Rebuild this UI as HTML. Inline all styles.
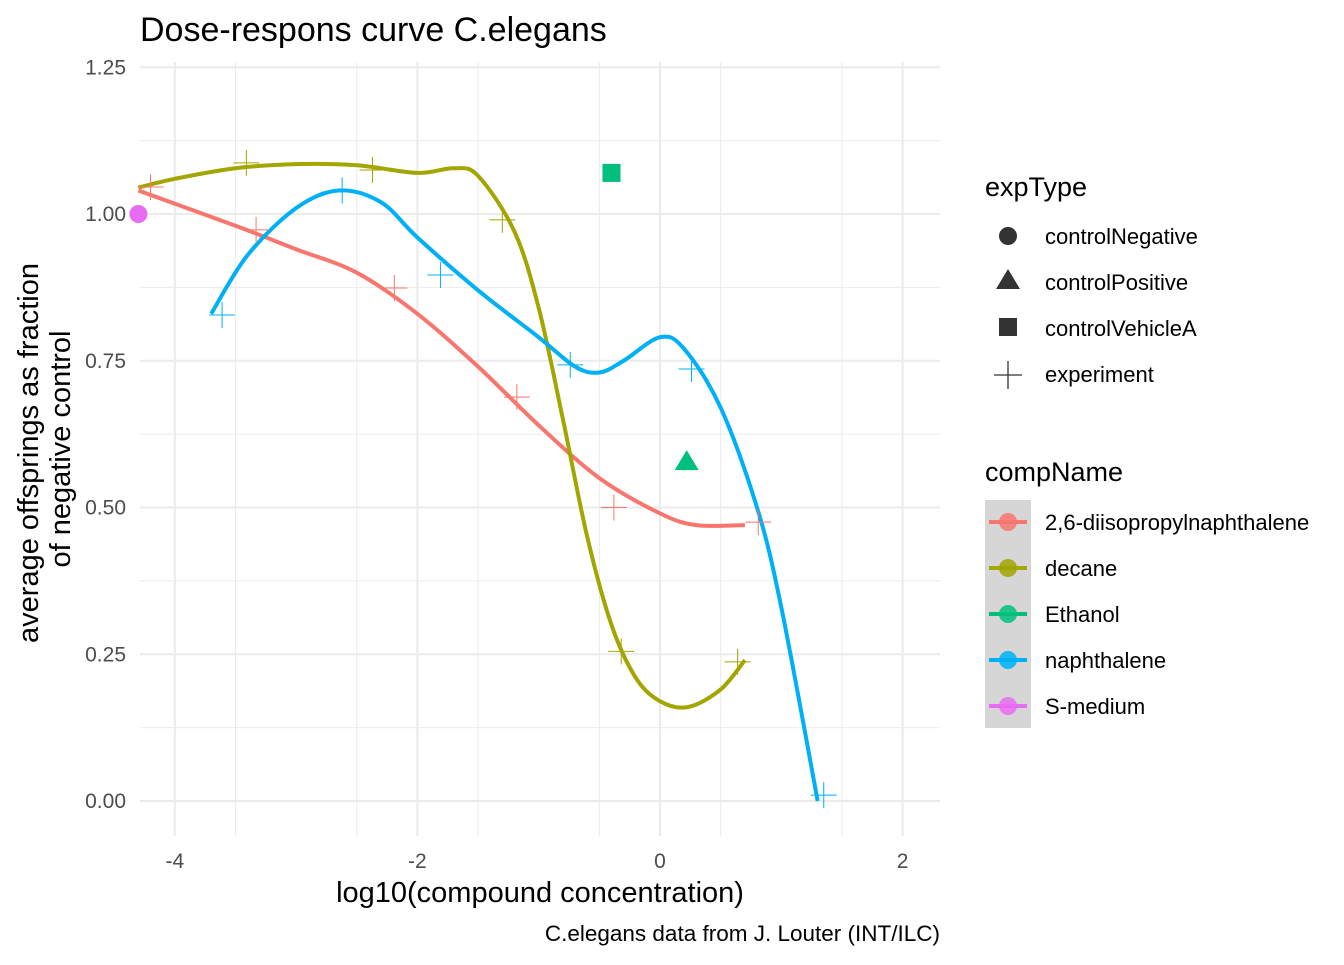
<!DOCTYPE html>
<html><head><meta charset="utf-8"><style>
body{margin:0;background:#fff;}
svg text{font-family:"Liberation Sans",sans-serif;}
</style></head><body>
<svg id="chart" width="1344" height="960" xmlns="http://www.w3.org/2000/svg">
<text x="140" y="41" font-size="34" fill="#000">Dose-respons curve C.elegans</text>
<g id="grid"></g>
<g id="axes"></g>
<g id="series"></g>
<text x="540" y="902" font-size="29" text-anchor="middle">log10(compound concentration)</text>
<text transform="translate(38,453) rotate(-90)" font-size="29" text-anchor="middle">average offsprings as fraction</text>
<text transform="translate(70,449) rotate(-90)" font-size="29" text-anchor="middle">of negative control</text>
<text x="940" y="941" font-size="22.5" text-anchor="end">C.elegans data from J. Louter (INT/ILC)</text>
<g>
<text x="985" y="196" font-size="27">expType</text>
<circle cx="1008" cy="236" r="9" fill="#333"/>
<text x="1045" y="244" font-size="22">controlNegative</text>
<polygon points="996,289 1020,289 1008,269" fill="#333"/>
<text x="1045" y="290" font-size="22">controlPositive</text>
<rect x="999" y="318" width="18" height="18" fill="#333"/>
<text x="1045" y="336" font-size="22">controlVehicleA</text>
<path d="M994,375H1022M1008,361V389" stroke="#333" stroke-width="1.3"/>
<text x="1045" y="382" font-size="22">experiment</text>
</g>
<g id="legend2">
<text x="985" y="481" font-size="27">compName</text>
<rect x="985" y="500" width="46" height="228" fill="#d6d6d6"/>
</g>
</svg>
<script>
const xTicks=[-4,-2,0,2];
const xTickLabels=["-4","-2","0","2"];
const yTicks=[0,0.25,0.5,0.75,1.0,1.25];
const yTickLabels=["0.00","0.25","0.50","0.75","1.00","1.25"];
const redX=[-4.2,-3.33,-2.19,-1.18,-0.38,0.81];
const redY=[1.046,0.973,0.874,0.688,0.50,0.475];
const oliveX=[-3.41,-2.37,-1.30,-0.32,0.64];
const oliveY=[1.087,1.075,0.99,0.255,0.237];
const blueX=[-3.61,-2.62,-1.81,-0.74,0.26,1.35];
const blueY=[0.828,1.04,0.896,0.743,0.736,0.01];
const redCurveX=[-4.3,-3.5,-3,-2.5,-2,-1.5,-1,-0.5,0,0.3,0.7];
const redCurveY=[1.04,0.98,0.94,0.90,0.83,0.74,0.64,0.55,0.49,0.47,0.47];
const oliveCurveX=[-4.3,-4,-3.5,-3,-2.5,-2,-1.7,-1.5,-1.2,-1,-0.8,-0.6,-0.4,-0.2,0,0.23,0.5,0.7];
const oliveCurveY=[1.045,1.06,1.078,1.085,1.083,1.07,1.078,1.065,0.97,0.84,0.65,0.45,0.30,0.21,0.17,0.16,0.19,0.24];
const blueCurveX=[-3.7,-3.4,-3,-2.65,-2.3,-2,-1.5,-1,-0.7,-0.5,-0.3,0,0.2,0.5,0.8,1.0,1.3];
const blueCurveY=[0.83,0.93,1.01,1.04,1.02,0.96,0.87,0.79,0.74,0.73,0.75,0.79,0.77,0.67,0.50,0.33,0.0];
const ethanolVehicle=[-0.40,1.07];
const ethanolPositive=[0.22,0.579];
const smedium=[-4.3,1.0];
const compNames=["2,6-diisopropylnaphthalene","decane","Ethanol","naphthalene","S-medium"];
const compColors=["#F8766D","#A3A500","#00BF7D","#00B0F6","#E76BF3"];

const NS="http://www.w3.org/2000/svg";
const X=v=>660+v*121.3, Y=v=>801-v*587;
function mk(tag,attrs,parent){const e=document.createElementNS(NS,tag);for(const k in attrs)e.setAttribute(k,attrs[k]);parent.appendChild(e);return e;}
const grid=document.getElementById('grid'),axes=document.getElementById('axes'),series=document.getElementById('series');
for(let v=-4.5;v<=2.5;v+=1){if(X(v)<140||X(v)>940)continue;const l=mk('line',{x1:X(v),x2:X(v),y1:62,y2:836,stroke:'#ebebeb','stroke-width':1},grid);

}
for(let v=0.125;v<1.3;v+=0.25){const l=mk('line',{x1:140,x2:940,y1:Y(v),y2:Y(v),stroke:'#ebebeb','stroke-width':1},grid);

}
xTicks.forEach((v,i)=>{const l=mk('line',{x1:X(v),x2:X(v),y1:62,y2:836,stroke:'#ebebeb','stroke-width':2},grid);


const t=mk('text',{x:X(v),y:868,'font-size':21,'text-anchor':'middle',fill:'#4d4d4d'},axes);t.textContent=xTickLabels[i];

});
yTicks.forEach((v,i)=>{const l=mk('line',{x1:140,x2:940,y1:Y(v),y2:Y(v),stroke:'#ebebeb','stroke-width':2},grid);


const t=mk('text',{x:126,y:Y(v)+7,'font-size':21,'text-anchor':'end',fill:'#4d4d4d'},axes);t.textContent=yTickLabels[i];

});
function smooth(xs,ys){const p=xs.map((x,i)=>[X(x),Y(ys[i])]);let d=`M${p[0][0]},${p[0][1]}`;
for(let i=0;i<p.length-1;i++){const p0=p[i-1]||p[i],p1=p[i],p2=p[i+1],p3=p[i+2]||p2;
d+=`C${p1[0]+(p2[0]-p0[0])/6},${p1[1]+(p2[1]-p0[1])/6} ${p2[0]-(p3[0]-p1[0])/6},${p2[1]-(p3[1]-p1[1])/6} ${p2[0]},${p2[1]}`;}return d;}
function plus(xs,ys,c,name){xs.forEach((x,i)=>{const cx=X(x),cy=Y(ys[i]);const p=mk('path',{d:`M${cx-13},${cy}H${cx+13}M${cx},${cy-13}V${cy+13}`,stroke:c,'stroke-width':1},series);

});}
function curve(xs,ys,c,name){const p=mk('path',{d:smooth(xs,ys),stroke:c,'stroke-width':4,fill:'none'},series);

}
curve(redCurveX,redCurveY,compColors[0],'diisopropylnaphthalene');
curve(oliveCurveX,oliveCurveY,compColors[1],'decane');
curve(blueCurveX,blueCurveY,compColors[3],'naphthalene');
plus(redX,redY,compColors[0],'diisopropylnaphthalene');
plus(oliveX,oliveY,compColors[1],'decane');
plus(blueX,blueY,compColors[3],'naphthalene');
let e=mk('rect',{x:X(ethanolVehicle[0])-9,y:Y(ethanolVehicle[1])-9,width:18,height:18,fill:compColors[2]},series);


const tx=X(ethanolPositive[0]),ty=Y(ethanolPositive[1]);
e=mk('polygon',{points:`${tx-12},${ty+9} ${tx+12},${ty+9} ${tx},${ty-11}`,fill:compColors[2]},series);


e=mk('circle',{cx:X(smedium[0]),cy:Y(smedium[1]),r:9,fill:compColors[4]},series);


const lg=document.getElementById('legend2');
compNames.forEach((n,i)=>{const cy=522+i*46;
const l=mk('line',{x1:989,x2:1027,y1:cy,y2:cy,stroke:compColors[i],'stroke-width':4},lg);


const c=mk('circle',{cx:1008,cy:cy,r:9,fill:compColors[i],'fill-opacity':0.85},lg);


const t=mk('text',{x:1045,y:cy+8,'font-size':22},lg);t.textContent=n;

});
</script>
</body></html>
